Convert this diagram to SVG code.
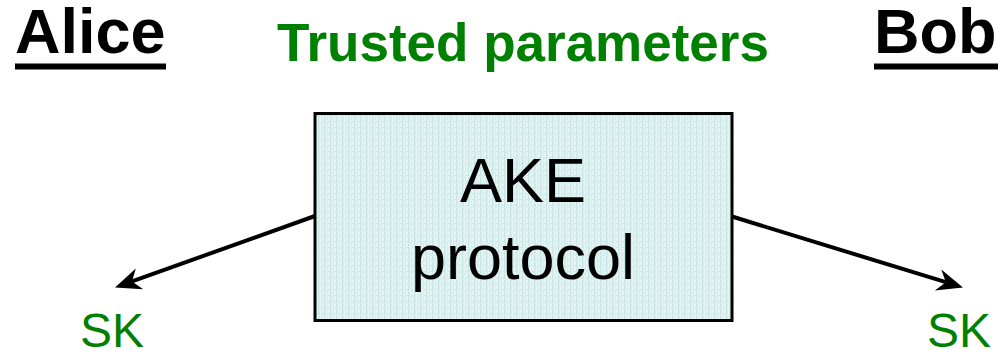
<svg xmlns="http://www.w3.org/2000/svg" width="1002" height="350" viewBox="0 0 1002 350">
  <style>
    .title { font-family: "Liberation Sans", Arial, sans-serif; font-weight: bold; font-size: 63px; fill: #000; }
    .green { font-family: "Liberation Sans", Arial, sans-serif; fill: #008000; }
    .boxtext { font-family: "Liberation Sans", Arial, sans-serif; font-size: 63px; fill: #000; text-anchor: middle; }
    .conn { stroke: #000; stroke-width: 4; fill: none; }
    .head { fill: #000; stroke: none; }
  </style>
  <defs>
    <!-- light cyan weave texture for the protocol box -->
    <pattern id="weave" width="6" height="6" patternUnits="userSpaceOnUse">
      <rect width="6" height="6" fill="#e6f5f5"/>
      <rect x="0" y="0" width="1.5" height="6" fill="#c6e6e6"/>
      <rect x="3" y="0" width="1" height="6" fill="#d4eded"/>
      <rect x="0" y="3" width="6" height="1" fill="#d9efef"/>
      <rect x="4.5" y="1" width="1" height="1" fill="#b4dcdc"/>
    </pattern>
  </defs>

  <g id="alice">
    <text class="title" x="15" y="53">Alice</text>
    <rect x="15" y="63.5" width="151" height="6" fill="#000"/>
  </g>

  <g id="bob">
    <text class="title" x="874" y="53">Bob</text>
    <rect x="874" y="63.5" width="124" height="6" fill="#000"/>
  </g>

  <g id="trusted-parameters">
    <text class="green" x="277" y="61" font-size="53" font-weight="bold">Trusted parameters</text>
  </g>

  <g id="ake-protocol">
    <rect x="315" y="113.5" width="417" height="207" fill="url(#weave)" stroke="#000" stroke-width="3"/>
    <text class="boxtext" x="523" y="201.5">AKE</text>
    <text class="boxtext" x="523" y="278.5">protocol</text>
  </g>

  <g id="connectors">
    <!-- box to Alice's key -->
    <line class="conn" x1="315" y1="216" x2="132" y2="281.4"/>
    <path class="head" d="M115,287.5 L135.8,268.4 L132,281.4 L143.2,289.2 Z"/>
    <!-- box to Bob's key -->
    <line class="conn" x1="732" y1="216.5" x2="945.8" y2="282.2"/>
    <path class="head" d="M963,287.5 L941.3,269.4 L945.8,282.2 L934.9,290.4 Z"/>
  </g>

  <g id="sk-alice">
    <text class="green" x="80" y="346.5" font-size="48">SK</text>
  </g>

  <g id="sk-bob">
    <text class="green" x="927" y="346.5" font-size="48">SK</text>
  </g>
</svg>
